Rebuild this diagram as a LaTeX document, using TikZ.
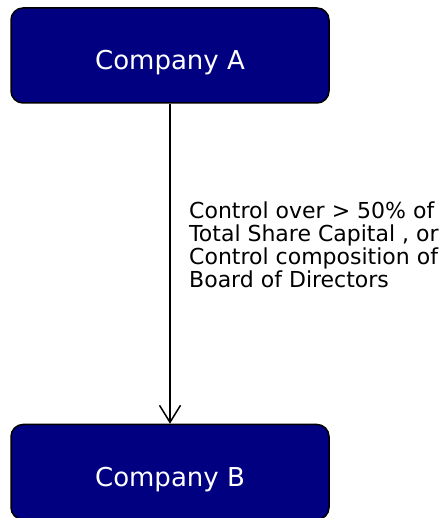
\documentclass[tikz,border=0pt]{standalone}
\usepackage{fontspec}
\setmainfont{DejaVu Sans}
\usetikzlibrary{arrows.meta,positioning}
\definecolor{boxnavy}{RGB}{0,0,128}
\tikzset{company/.style={rectangle,rounded corners=12pt,fill=boxnavy,draw=black,line width=1.5pt,minimum width=318pt,minimum height=95pt,inner sep=0pt,text height=29pt,text depth=0pt,text=white,font=\fontsize{26}{30}\selectfont},
         edge label/.style={rectangle,draw=none,fill=none,align=left,inner sep=0pt,font=\fontsize{22}{23}\selectfont}
}

\begin{document}
\begin{tikzpicture}[x=1pt,y=1pt,
>={Straight Barb[length=17pt,width=21pt]}]
\useasboundingbox (0,0) rectangle (443,518);
\node[company] (compA) at (170,462.5) {Company A};
\node[company, below=320pt of compA] (compB) {Company B};
\node[edge label, anchor=north west] (ctrl) at (189,316) {Control over > 50\% of\\Total Share Capital , or\\Control composition of\\Board of Directors};
\draw[->, line width=1.5pt] (compA) -- (compB);
\end{tikzpicture}
\end{document}
